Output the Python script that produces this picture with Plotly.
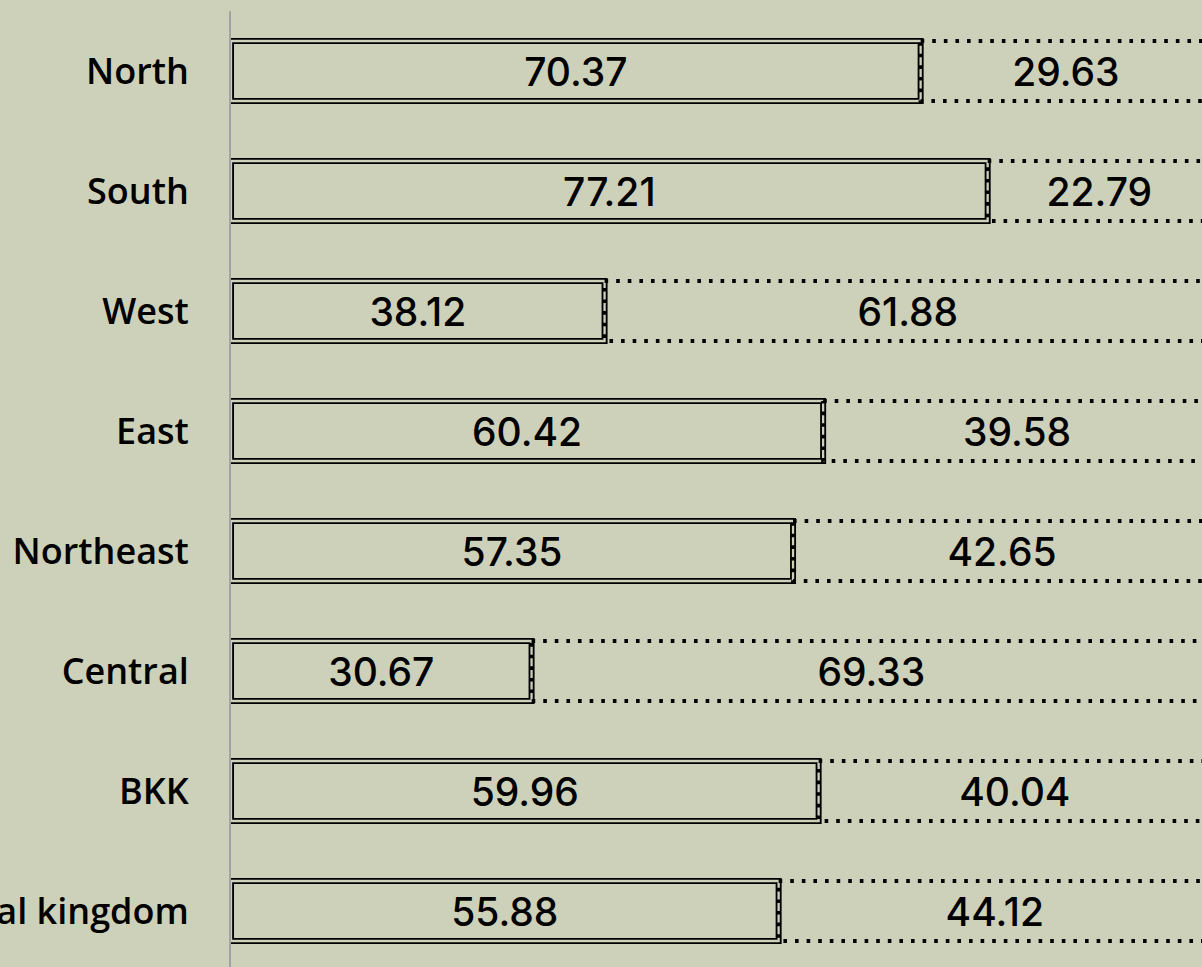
import plotly.graph_objects as go

regions = ["North", "South", "West", "East", "Northeast", "Central", "BKK", "Total kingdom"]
share_a = [70.37, 77.21, 38.12, 60.42, 57.35, 30.67, 59.96, 55.88]
share_b = [29.63, 22.79, 61.88, 39.58, 42.65, 69.33, 40.04, 44.12]

BG = "#cdd1ba"
NUM_FONT = dict(color="black", size=39, family="Inter", weight=500)
LABEL_FONT = dict(color="black", size=36, family="Open Sans", weight=600)
BAR_W = 0.5

pos = list(range(len(regions)))
fmt = lambda v: f"{v:.2f}"

fig = go.Figure()

# solid segment, double outline = thick black line + thin background line on top
fig.add_bar(
    y=pos, x=share_a, base=0, orientation="h", width=BAR_W,
    marker=dict(color="rgba(0,0,0,0)", line=dict(color="black", width=6)),
    hoverinfo="skip",
)
fig.add_bar(
    y=pos, x=share_a, base=0, orientation="h", width=BAR_W,
    marker=dict(color="rgba(0,0,0,0)", line=dict(color=BG, width=2.3)),
    text=[fmt(v) for v in share_a], textposition="inside",
    insidetextanchor="middle", textfont=NUM_FONT,
    hoverinfo="x+y",
)
# second segment, text only (outline drawn dotted below)
fig.add_bar(
    y=pos, x=share_b, base=share_a, orientation="h", width=BAR_W,
    marker=dict(color="rgba(0,0,0,0)", line=dict(width=0)),
    text=[fmt(v) for v in share_b], textposition="inside",
    insidetextanchor="middle", textfont=NUM_FONT,
    hoverinfo="x+y",
)

# dotted outlines of the second segment
dx, dy = [], []
for i, a, b in zip(pos, share_a, share_b):
    lo, hi = i - BAR_W / 2, i + BAR_W / 2
    dx += [a, a + b, a + b, a, a, None]
    dy += [lo, lo, hi, hi, lo, None]
fig.add_scatter(
    x=dx, y=dy, mode="lines",
    line=dict(color="black", width=4, dash="3.6px,8px"),
    hoverinfo="skip", showlegend=False,
)

fig.update_layout(
    width=1202, height=975,
    margin=dict(l=230.5, r=0, t=11, b=4, autoexpand=False),
    paper_bgcolor=BG, plot_bgcolor=BG,
    barmode="overlay", showlegend=False,
    font=dict(family="Open Sans", size=36, color="black"),
)
fig.update_xaxes(
    range=[0, 99.08], showgrid=False, zeroline=False,
    showticklabels=False, showline=False, automargin=False,
)
fig.update_yaxes(
    range=[len(regions) - 0.5, -0.5], tickvals=pos, ticktext=regions,
    showgrid=False, zeroline=False, showline=True, linecolor="#a3a3a3",
    linewidth=2, ticks="", ticklabelstandoff=33, automargin=False,
    tickfont=LABEL_FONT,
)

fig.write_html(
    "out.html",
    config={"displayModeBar": False},
    post_script="document.body.style.margin='0';document.body.style.background='%s';" % BG,
)
